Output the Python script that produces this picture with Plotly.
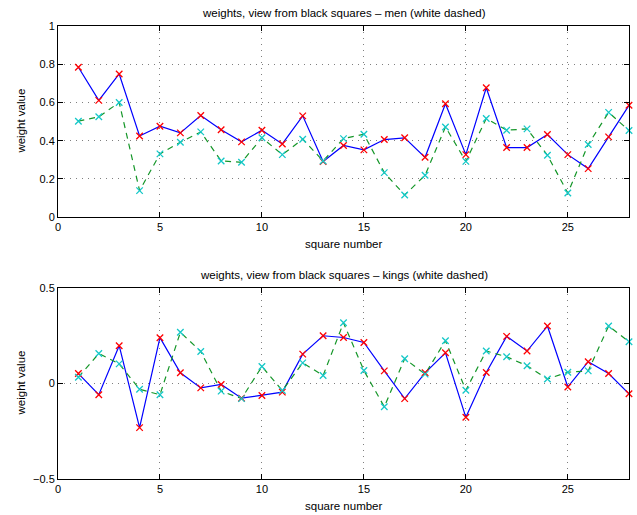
import plotly.graph_objects as go

squares = list(range(1, 29))

men_black = [0.784, 0.611, 0.749, 0.425, 0.476, 0.441, 0.532, 0.457, 0.394, 0.455,
             0.383, 0.530, 0.291, 0.375, 0.352, 0.406, 0.415, 0.313, 0.593, 0.327,
             0.677, 0.364, 0.364, 0.432, 0.327, 0.254, 0.420, 0.585]
men_white = [0.502, 0.525, 0.600, 0.139, 0.331, 0.392, 0.446, 0.294, 0.287, 0.415,
             0.327, 0.408, 0.294, 0.411, 0.434, 0.233, 0.116, 0.219, 0.472, 0.292,
             0.516, 0.455, 0.462, 0.324, 0.126, 0.380, 0.548, 0.453]

kings_black = [0.052, -0.059, 0.198, -0.231, 0.240, 0.056, -0.023, -0.005, -0.077, -0.063,
               -0.045, 0.154, 0.250, 0.241, 0.215, 0.066, -0.079, 0.056, 0.161, -0.177,
               0.058, 0.247, 0.170, 0.301, -0.018, 0.114, 0.052, -0.054]
kings_white = [0.033, 0.157, 0.103, -0.030, -0.059, 0.268, 0.168, -0.040, -0.079, 0.089,
               -0.037, 0.108, 0.042, 0.318, 0.068, -0.122, 0.130, 0.049, 0.224, -0.035,
               0.170, 0.140, 0.093, 0.024, 0.059, 0.066, 0.301, 0.219]

x_ticks = [0, 5, 10, 15, 20, 25]
top_yticks = [0, 0.2, 0.4, 0.6, 0.8, 1]
top_ylabels = ["0", "0.2", "0.4", "0.6", "0.8", "1"]
bot_yticks = [-0.5, 0, 0.5]
bot_ylabels = ["\u22120.5", "0", "0.5"]

titles = ["weights, view from black squares \u2013 men (white dashed)",
          "weights, view from black squares \u2013 kings (white dashed)"]
xlabel = "square number"
ylabel = "weight value"

BLUE = "rgb(0,0,255)"
RED = "rgb(255,0,0)"
GREEN = "rgb(20,150,40)"
CYAN = "rgb(20,200,200)"
FONT = "Liberation Sans, Arial, Helvetica, sans-serif"

fig = go.Figure()

def add_series(black, white, xa, ya):
    fig.add_trace(go.Scatter(x=squares, y=black, mode="lines", line=dict(color=BLUE, width=1.2),
                             xaxis=xa, yaxis=ya, showlegend=False, hoverinfo="skip"))
    fig.add_trace(go.Scatter(x=squares, y=white, mode="lines",
                             line=dict(color=GREEN, width=1.2, dash="6px,5px"),
                             xaxis=xa, yaxis=ya, showlegend=False, hoverinfo="skip"))
    fig.add_trace(go.Scatter(x=squares, y=black, mode="markers", cliponaxis=False,
                             marker=dict(symbol="x-thin", size=6.5, line=dict(color=RED, width=1.3)),
                             xaxis=xa, yaxis=ya, showlegend=False))
    fig.add_trace(go.Scatter(x=squares, y=white, mode="markers", cliponaxis=False,
                             marker=dict(symbol="x-thin", size=6.5, line=dict(color=CYAN, width=1.3)),
                             xaxis=xa, yaxis=ya, showlegend=False))

add_series(men_black, men_white, "x", "y")
add_series(kings_black, kings_white, "x2", "y2")

top_dom = [0.578, 1.0]
bot_dom = [0.0, 0.4216]

axis_common = dict(
    showline=True, linecolor="black", linewidth=1, mirror="ticks",
    ticks="inside", ticklen=5, tickcolor="black", tickwidth=1,
    showgrid=True, gridcolor="rgba(0,0,0,0.5)", gridwidth=1, griddash="1px,5px",
    zeroline=False, tickfont=dict(size=11, color="black", family=FONT),
)

fig.update_layout(
    width=637, height=515,
    margin=dict(l=58, r=8, t=26, b=36),
    paper_bgcolor="white", plot_bgcolor="white",
    font=dict(family=FONT, size=11, color="black"),
    xaxis=dict(domain=[0, 1], range=[0, 28], tickvals=x_ticks, anchor="y", **axis_common),
    yaxis=dict(domain=top_dom, range=[0, 1], tickvals=top_yticks, ticktext=top_ylabels,
               anchor="x", **axis_common),
    xaxis2=dict(domain=[0, 1], range=[0, 28], tickvals=x_ticks, anchor="y2", **axis_common),
    yaxis2=dict(domain=bot_dom, range=[-0.5, 0.5], tickvals=bot_yticks, ticktext=bot_ylabels,
                anchor="x2", **axis_common),
)

annos = []
for dom, title in [(top_dom, titles[0]), (bot_dom, titles[1])]:
    annos.append(dict(text=title, xref="paper", yref="paper", x=0.5, y=dom[1],
                      xanchor="center", yanchor="bottom", yshift=5, showarrow=False,
                      font=dict(size=11.5, family=FONT)))
    annos.append(dict(text=xlabel, xref="paper", yref="paper", x=0.5, y=dom[0],
                      xanchor="center", yanchor="top", yshift=-19, showarrow=False,
                      font=dict(size=11.5, family=FONT)))
    annos.append(dict(text=ylabel, xref="paper", yref="paper", x=0, y=(dom[0] + dom[1]) / 2,
                      xanchor="right", yanchor="middle", xshift=-29, textangle=-90,
                      showarrow=False, font=dict(size=11.5, family=FONT)))
fig.update_layout(annotations=annos)

fig.write_html("out.html")
